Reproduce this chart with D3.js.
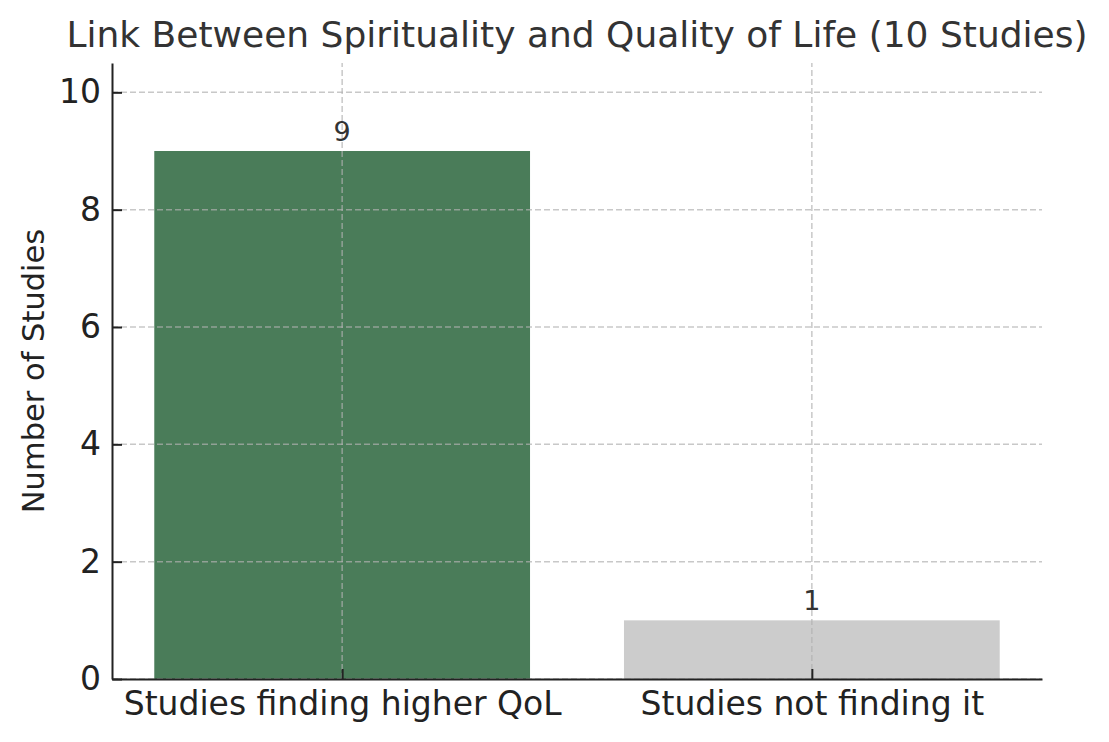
<!DOCTYPE html>
<meta charset="utf-8">
<html>
<head>
  <script src="https://d3js.org/d3.v7.min.js" charset="utf-8"></script>
</head>
<style>
body { margin: 0; background: white; }
* { font-family: "DejaVu Sans", sans-serif; }
#title { text-anchor: middle; font-size: 36px; fill: #333333; }
.tick text { font-size: 33px; fill: #222222; }
.ylabel { text-anchor: middle; font-size: 30.5px; fill: #222222; }
.value { text-anchor: middle; font-size: 27px; fill: #333333; }
</style>
<body>
<div id="container"></div>
<script type="text/javascript">

var categories = ["Studies finding higher QoL", "Studies not finding it"]
var counts = [9, 1]
var barColors = ["#4a7c59", "#cccccc"]
var yTicks = [0, 2, 4, 6, 8, 10]

var width = 1109
var height = 742
var margin = {left: 112, right: 67, top: 63, bottom: 63}

var svg = d3.select("#container")
            .append("svg")
            .attr("width", width)
            .attr("height", height)

// matplotlib-like continuous x: bars at 0 and 1, width 0.8, 5% margins
var x = d3.scaleLinear().domain([-0.49, 1.49]).range([margin.left, width - margin.right])
var y = d3.scaleLinear().domain([0, 10.5]).range([height - margin.bottom, margin.top])

// bars
svg.append("g").selectAll("rect")
   .data(counts)
   .enter()
   .append("rect")
   .attr("x", (d, i) => x(i - 0.4))
   .attr("width", (d, i) => x(i + 0.4) - x(i - 0.4))
   .attr("y", (d) => y(d))
   .attr("height", (d) => y(0) - y(d))
   .attr("fill", (d, i) => barColors[i])

// grid on top of bars
var grid = svg.append("g")
grid.selectAll(".hgrid")
    .data(yTicks)
    .enter()
    .append("line")
    .attr("x1", x.range()[0]).attr("x2", x.range()[1])
    .attr("y1", (d) => y(d)).attr("y2", (d) => y(d))
grid.selectAll(".vgrid")
    .data(categories)
    .enter()
    .append("line")
    .attr("x1", (d, i) => x(i)).attr("x2", (d, i) => x(i))
    .attr("y1", y.range()[0]).attr("y2", y.range()[1])
grid.selectAll("line")
    .attr("stroke", "#b0b0b0")
    .attr("stroke-opacity", 0.7)
    .attr("stroke-width", 1.5)
    .attr("stroke-dasharray", "6,3")

// value labels
svg.append("g").selectAll("text")
   .data(counts)
   .enter()
   .append("text")
   .attr("class", "value")
   .attr("x", (d, i) => x(i))
   .attr("y", (d) => y(d) - 10)
   .text((d) => d)

// axes
var xAxis = d3.axisBottom(x)
              .tickValues(d3.range(categories.length))
              .tickFormat((i) => categories[i])
              .tickSizeInner(-10).tickSizeOuter(0).tickPadding(13)
var yAxis = d3.axisLeft(y)
              .tickValues(yTicks)
              .tickSizeInner(-10).tickSizeOuter(0).tickPadding(11)

var gx = svg.append("g")
            .attr("transform", "translate(0," + y(0) + ")")
            .call(xAxis)
var gy = svg.append("g")
            .attr("transform", "translate(" + x.range()[0] + ",0)")
            .call(yAxis)

svg.selectAll(".domain").attr("stroke", "#222222").attr("stroke-width", 2)
svg.selectAll(".tick line").attr("stroke", "#222222").attr("stroke-width", 2)
gx.selectAll("text").attr("dy", "0.71em")

// y label
svg.append("text")
   .attr("class", "ylabel")
   .attr("transform", "translate(44," + ((y.range()[0] + y.range()[1]) / 2) + ") rotate(-90)")
   .text("Number of Studies")

// title
svg.append("text")
   .attr("id", "title")
   .attr("x", 577)
   .attr("y", 47)
   .text("Link Between Spirituality and Quality of Life (10 Studies)")

</script>
</body>
</html>
